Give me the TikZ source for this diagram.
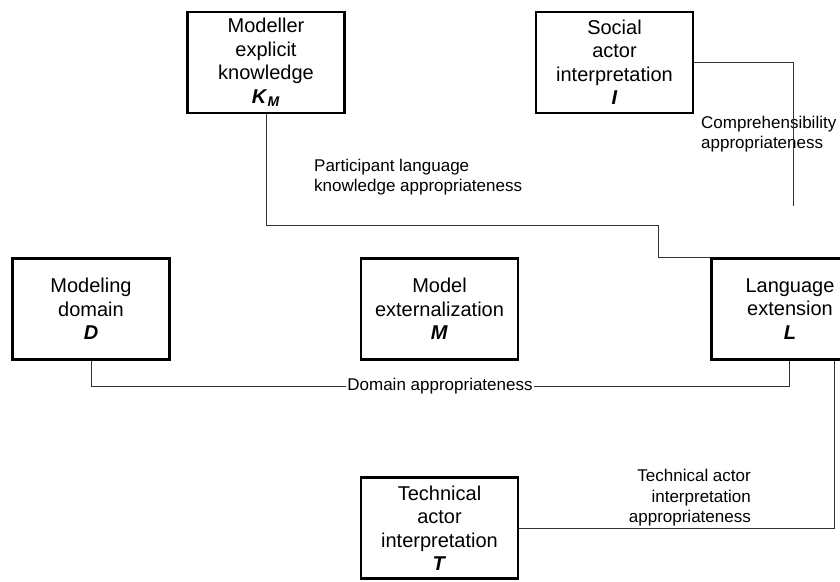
\documentclass[tikz,border=0pt]{standalone}
\usepackage{fontspec}
\setmainfont{Liberation Sans}
\begin{document}
\begin{tikzpicture}[x=1pt,y=-1pt,
  concept/.style={draw=black, line width=2.6pt, minimum width=157pt, minimum height=101pt,
    inner sep=0pt, align=center, font=\fontsize{20}{23.5}\selectfont},
  link/.style={draw=black!80, line width=0.75pt},
  lbl/.style={inner sep=0pt, font=\fontsize{17}{20.5}\selectfont}]
\useasboundingbox (0,0) rectangle (840,581);

% concept boxes
\node[concept] (KM) at (266,62.5) {Modeller\\explicit\\knowledge\\\textbf{\textit{K}\textsubscript{\textit{M}}}};
\node[concept] (I)  at (614.5,62.5) {Social\\actor\\interpretation\\\textbf{\textit{I}}};
\node[concept] (D)  at (91,309) {Modeling\\domain\\\textbf{\textit{D}}};
\node[concept] (M)  at (439.5,309) {Model\\externalization\\\textbf{\textit{M}}};
\node[concept] (L)  at (790,309) {Language\\extension\\\textbf{\textit{L}}};
\node[concept] (T)  at (439.5,528) {Technical\\actor\\interpretation\\\textbf{\textit{T}}};

% labels
\node[lbl, align=left, anchor=west] (pk) at (314,177) {Participant language\\knowledge appropriateness};
\node[lbl, align=left, anchor=west] (ca) at (701,134) {Comprehensibility\\appropriateness};
\node[lbl, align=right, anchor=east] (ta) at (751,498) {Technical actor\\interpretation\\appropriateness};
\node[lbl, inner xsep=1.5pt] (dom) at (440,386) {Domain appropriateness};

% bend points and free ends
\coordinate (kbend) at (658,225);
\coordinate (cend) at (793,206);
\coordinate (ltech) at ([xshift=44pt]L.south);

% connectors
\draw[link] (KM.south) |- (kbend) |- (L.north west);
\draw[link] (I.east) -| (cend);
\draw[link] (D.south) |- (dom.west);
\draw[link] (dom.east) -| ([xshift=-1pt]L.south);
\draw[link] (T.east) -| (ltech);
\end{tikzpicture}
\end{document}
